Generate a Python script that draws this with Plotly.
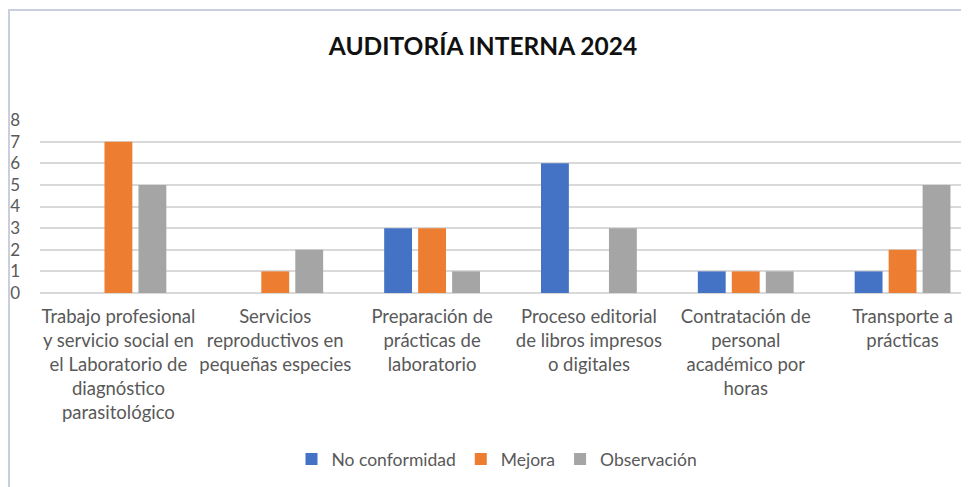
import plotly.graph_objects as go

categories = [
    "Trabajo profesional<br>y servicio social en<br>el Laboratorio de<br>diagnóstico<br>parasitológico",
    "Servicios<br>reproductivos en<br>pequeñas especies",
    "Preparación de<br>prácticas de<br>laboratorio",
    "Proceso editorial<br>de libros impresos<br>o digitales",
    "Contratación de<br>personal<br>académico por<br>horas",
    "Transporte a<br>prácticas",
]
no_conformidad = [0, 0, 3, 6, 1, 1]
mejora = [7, 1, 3, 0, 1, 2]
observacion = [5, 2, 1, 3, 1, 5]

series = [
    ("No conformidad", no_conformidad, "#4472C4"),
    ("Mejora", mejora, "#ED7D31"),
    ("Observación", observacion, "#A5A5A5"),
]

fig = go.Figure()
for name, vals, col in series:
    fig.add_trace(go.Bar(x=list(range(len(categories))), y=vals, name=name,
                         marker=dict(color=col, line=dict(width=0))))

# page body has an 8px margin; figure coordinates = screenshot coordinates - 8
OFF = 8
W, H = 961, 479
L, R, T, B = 40 - OFF, 0, 120 - OFF, H - (293 - OFF)
pw, ph = W - L - R, H - T - B

def px(x):
    return (x - OFF - L) / pw

def py(y):
    return (H - B - (y - OFF)) / ph

fig.update_layout(
    width=W, height=H,
    margin=dict(l=L, r=R, t=T, b=B),
    paper_bgcolor="white", plot_bgcolor="white",
    barmode="group", bargap=0.35, bargroupgap=0.18,
    font=dict(family="Lato, sans-serif", color="#595959", size=16),
    title=dict(text="<b>AUDITORÍA INTERNA 2024</b>", x=(483 - OFF) / W, xanchor="center",
               xref="container", y=1 - (46 - OFF) / H, yanchor="middle",
               font=dict(family="Lato, sans-serif", size=24.5, color="#111111")),
    xaxis=dict(tickmode="array", tickvals=list(range(len(categories))),
               ticktext=categories, range=[-0.5, 5.5 - 12 / 157],
               showgrid=False, zeroline=False, showline=False,
               tickfont=dict(size=18.5, color="#595959"), ticklabelstandoff=10),
    yaxis=dict(range=[0, 8], dtick=1, showgrid=True, gridcolor="#D9D9D9",
               gridwidth=1.5, zeroline=True, zerolinecolor="#D9D9D9", zerolinewidth=1.5,
               showline=False, tickfont=dict(size=17, color="#595959"),
               ticklabelstandoff=19),
    legend=dict(orientation="h", x=px(497), xanchor="center", y=py(459), yanchor="middle",
                font=dict(size=17.5, color="#595959"), itemwidth=30,
                traceorder="normal", bgcolor="rgba(0,0,0,0)"),
    shapes=[
        dict(type="rect", xref="paper", yref="paper",
             x0=px(9), x1=px(1000), y0=py(520), y1=py(10),
             line=dict(color="#C9CEE0", width=2), fillcolor="rgba(0,0,0,0)", layer="below"),
    ],
)

fig.write_html("out.html")
